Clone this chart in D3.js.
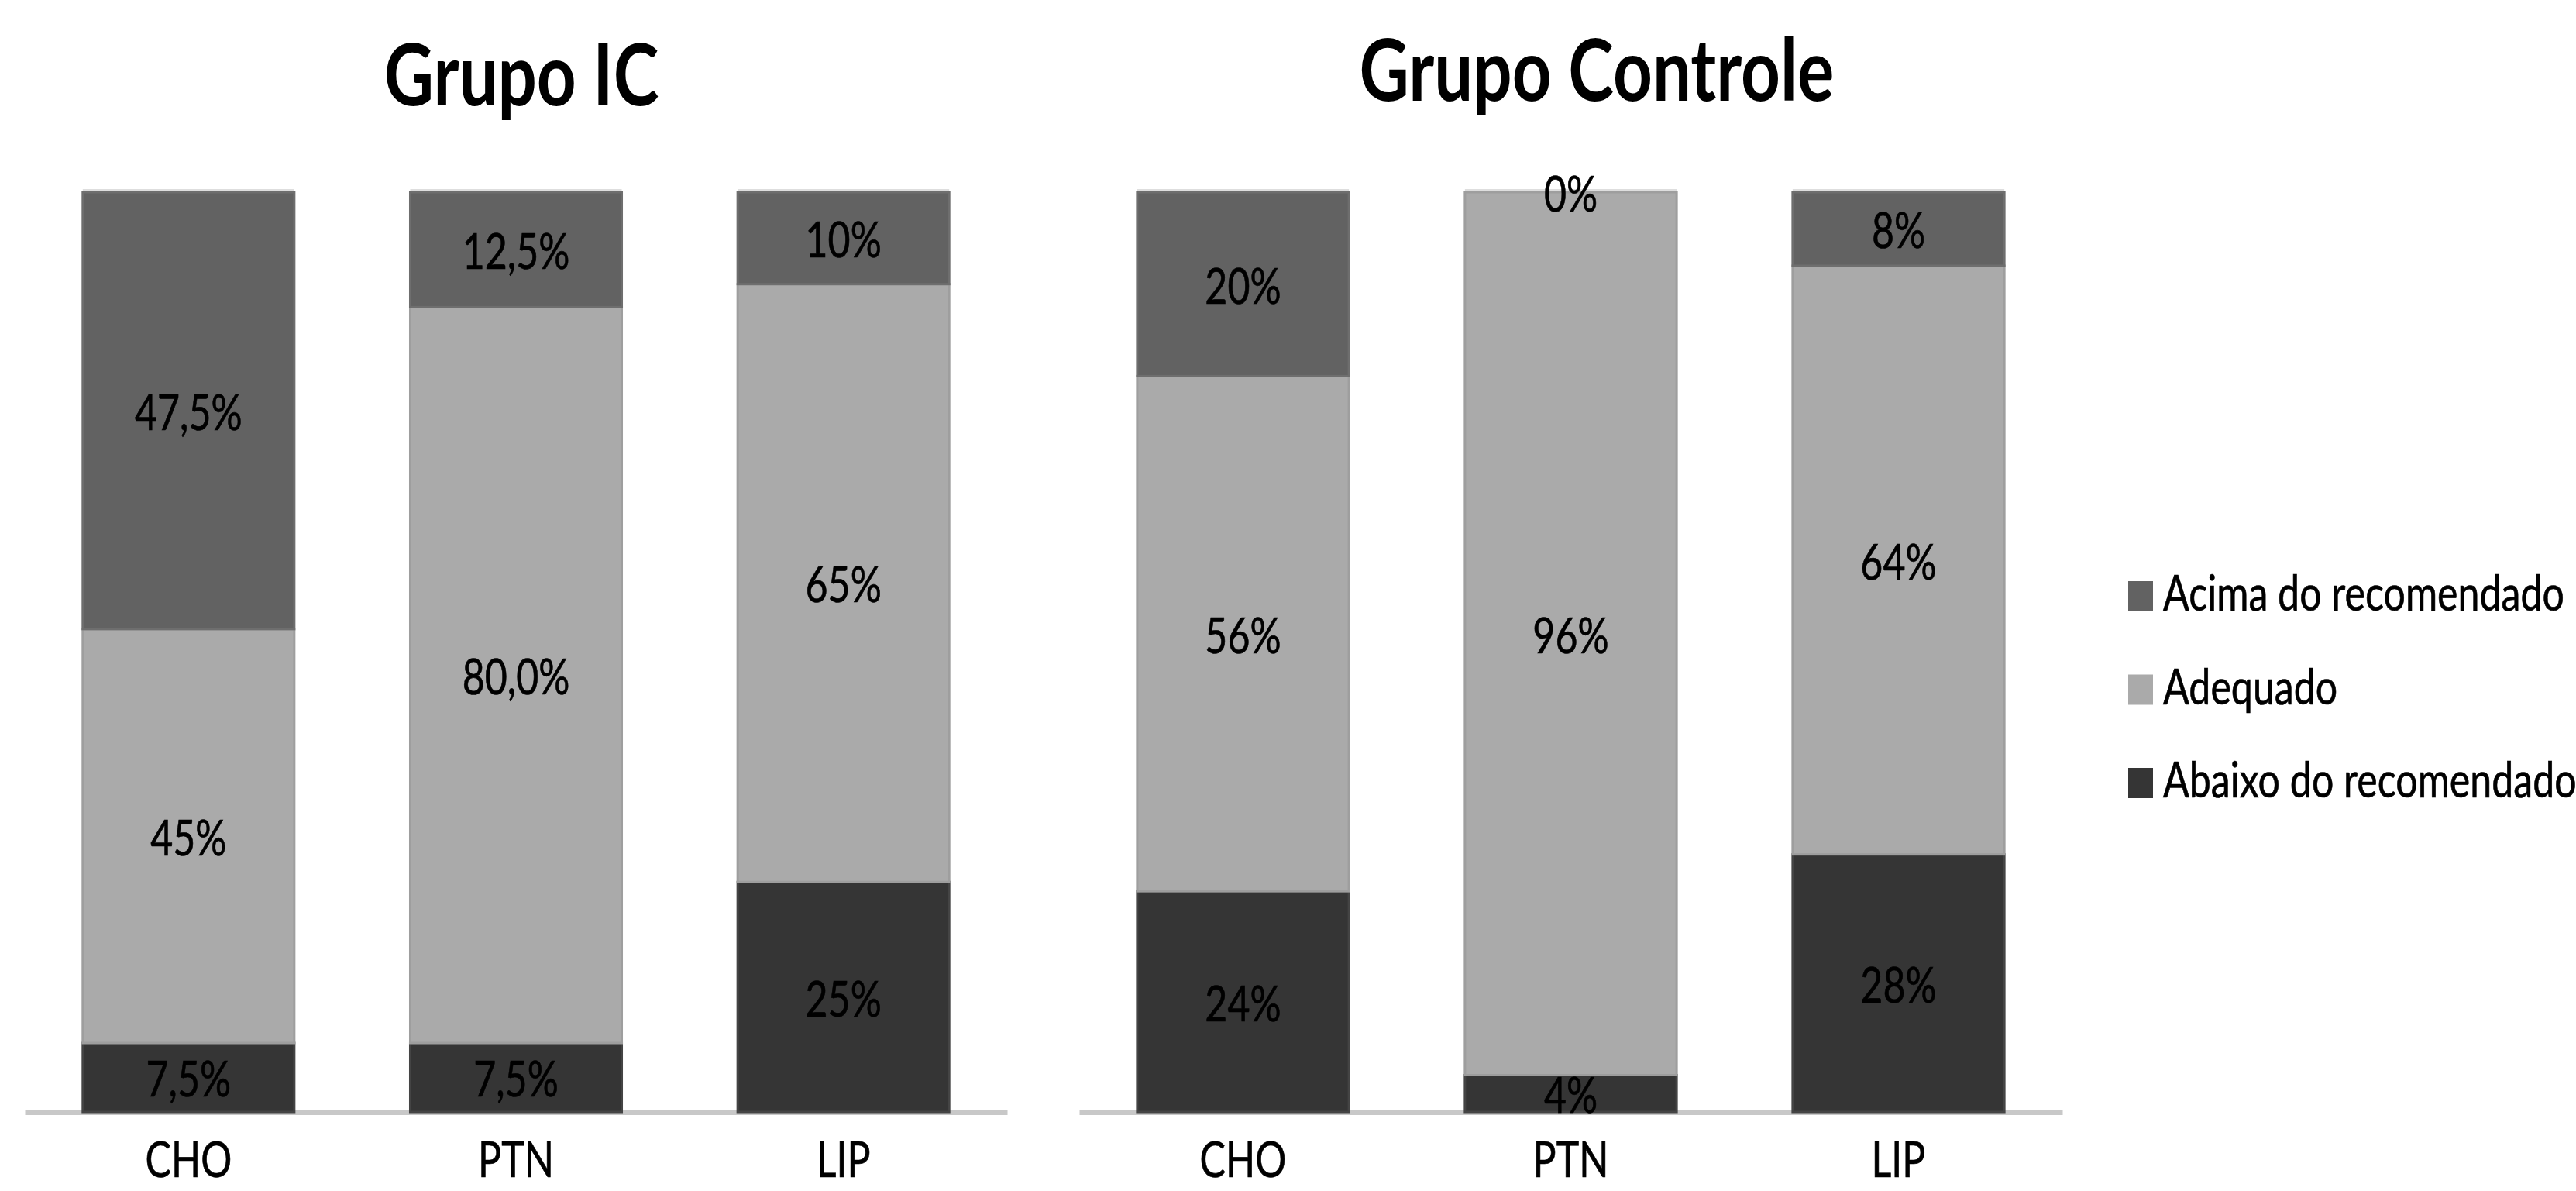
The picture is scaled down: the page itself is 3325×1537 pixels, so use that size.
<!DOCTYPE html>
<html>
<head>
<meta charset="utf-8">
<script src="https://cdn.jsdelivr.net/npm/d3@7"></script>
<style>
  body { margin: 0; background: #fff; }
  svg { display: block; }
</style>
</head>
<body>
<script>
// ---------------------- DATA ----------------------
const categories = ["CHO", "PTN", "LIP"];
const seriesKeys = ["abaixo", "adequado", "acima"]; // stacked bottom -> top
const legendNames = ["Acima do recomendado", "Adequado", "Abaixo do recomendado"];

// Grupo IC (%)
const icAbaixo = [7.5, 7.5, 25];
const icAdequado = [45, 80, 65];
const icAcima = [47.5, 12.5, 10];
const icLabels = {
    abaixo: ["7,5%", "7,5%", "25%"],
    adequado: ["45%", "80,0%", "65%"],
    acima: ["47,5%", "12,5%", "10%"]
};

// Grupo Controle (%)
const ctAbaixo = [24, 4, 28];
const ctAdequado = [56, 96, 64];
const ctAcima = [20, 0, 8];
const ctLabels = {
    abaixo: ["24%", "4%", "28%"],
    adequado: ["56%", "96%", "64%"],
    acima: ["20%", "0%", "8%"]
};

// ---------------------- SETUP ----------------------
const width = 3325, height = 1537;
const FONT = "Lato, 'Open Sans', sans-serif";
const fill = { acima: "#626262", adequado: "#aaaaaa", abaixo: "#353535" };
const edge = { acima: "#6e6e6e", adequado: "#9e9e9e", abaixo: "#444444" };

const svg = d3.select("body").append("svg")
    .attr("width", width)
    .attr("height", height);

svg.append("rect").attr("width", width).attr("height", height).attr("fill", "#fff");

// measure text so the narrow look of the original can be matched
function textWidth(str, size, weight) {
    const t = svg.append("text")
        .style("font-family", FONT)
        .style("font-size", size + "px")
        .style("font-weight", weight)
        .text(str);
    const w = t.node().getComputedTextLength();
    t.remove();
    return w;
}

const labelSize = 63;
const titleSize = 112;
const sx = 518 / textWidth("Acima do recomendado", labelSize, 400);
const sxTitle = 613 / textWidth("Grupo Controle", titleSize, 700);

const y = d3.scaleLinear().domain([0, 100]).range([1435, 248]);

// ---------------------- PANELS ----------------------
function rowsFrom(abaixo, adequado, acima) {
    return categories.map((c, i) => ({
        cat: c, abaixo: abaixo[i], adequado: adequado[i], acima: acima[i]
    }));
}

function styleLabel(sel) {
    sel.style("font-family", FONT)
        .style("font-size", labelSize + "px")
        .attr("fill", "#000")
        .attr("stroke", "#000")
        .attr("stroke-width", 0.7);
}

function drawPanel(opts) {
    const x = d3.scaleBand()
        .domain(categories)
        .range(opts.range)
        .paddingInner(0.354)
        .paddingOuter(0.177);

    const g = svg.append("g");

    // axis line + category labels
    const axis = g.append("g")
        .attr("transform", `translate(0,${y(0)})`)
        .call(d3.axisBottom(x).tickSize(0).tickSizeOuter(0));
    axis.select(".domain")
        .attr("stroke", "#c8c8c8")
        .attr("stroke-width", 7);
    axis.selectAll("text")
        .attr("y", 84)
        .attr("dy", null)
        .attr("transform", `scale(${sx},1)`)
        .call(styleLabel);

    const stacked = d3.stack().keys(seriesKeys)(opts.rows);

    // light shadow line above each bar
    g.selectAll(".bar-top")
        .data(opts.rows)
        .join("rect")
        .attr("x", d => x(d.cat))
        .attr("y", y(100) - 4)
        .attr("width", x.bandwidth())
        .attr("height", 4)
        .attr("fill", "#dedede");

    const layers = g.selectAll(".layer")
        .data(stacked)
        .join("g")
        .attr("class", "layer");

    layers.selectAll("rect")
        .data(s => s.map(d => ({ key: s.key, d })))
        .join("rect")
        .filter(o => o.d[1] - o.d[0] > 0)
        .attr("x", o => x(o.d.data.cat))
        .attr("y", o => y(o.d[1]))
        .attr("width", x.bandwidth())
        .attr("height", o => y(o.d[0]) - y(o.d[1]))
        .attr("fill", o => fill[o.key])
        .attr("stroke", o => edge[o.key])
        .attr("stroke-width", 3);

    // value labels centred in each segment
    stacked.forEach(s => {
        s.forEach((d, i) => {
            const cx = x(d.data.cat) + x.bandwidth() / 2;
            const cy = (y(d[0]) + y(d[1])) / 2 + 25;
            g.append("text")
                .attr("transform", `translate(${cx},${cy}) scale(${sx},1)`)
                .attr("text-anchor", "middle")
                .call(styleLabel)
                .text(opts.labels[s.key][i]);
        });
    });

    // title
    svg.append("text")
        .attr("transform", `translate(${opts.titleX},${opts.titleY}) scale(${sxTitle},1)`)
        .attr("text-anchor", "middle")
        .style("font-family", FONT)
        .style("font-size", titleSize + "px")
        .style("font-weight", 700)
        .attr("fill", "#000")
        .text(opts.title);
}

drawPanel({
    title: "Grupo IC",
    titleX: 673, titleY: 136,
    range: [32, 1300],
    rows: rowsFrom(icAbaixo, icAdequado, icAcima),
    labels: icLabels
});

drawPanel({
    title: "Grupo Controle",
    titleX: 2061, titleY: 130,
    range: [1393, 2662],
    rows: rowsFrom(ctAbaixo, ctAdequado, ctAcima),
    labels: ctLabels
});

// ---------------------- LEGEND ----------------------
const legendKeys = ["acima", "adequado", "abaixo"];
const legend = svg.append("g").attr("transform", "translate(2747,750)");

const item = legend.selectAll(".item")
    .data(legendKeys)
    .join("g")
    .attr("transform", (d, i) => `translate(0,${i * 120.5})`);

item.append("rect")
    .attr("width", 32)
    .attr("height", 39)
    .attr("fill", d => fill[d]);

item.append("text")
    .attr("transform", `translate(45,38) scale(${sx},1)`)
    .call(styleLabel)
    .text((d, i) => legendNames[i]);
</script>
</body>
</html>
